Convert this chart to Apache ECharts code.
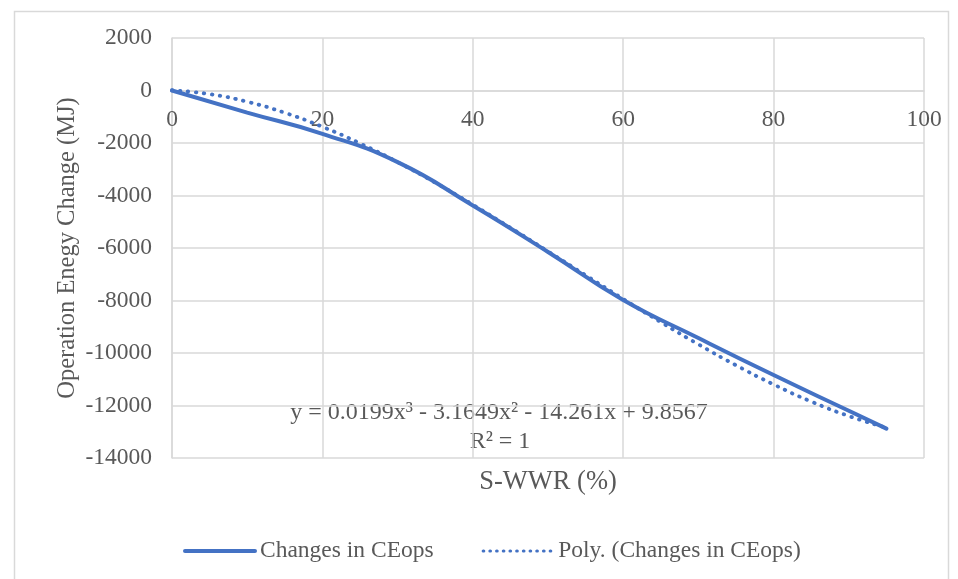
<!DOCTYPE html>
<html>
<head>
<meta charset="utf-8">
<script src="https://cdn.jsdelivr.net/npm/echarts@6/dist/echarts.min.js"></script>
<style>
html,body{margin:0;padding:0;background:#fff;}
#chart{width:958px;height:579px;}
</style>
</head>
<body>
<div id="chart"></div>
<script>
// Data
const xTicks = [0, 20, 40, 60, 80, 100];
const yTicks = [2000, 0, -2000, -4000, -6000, -8000, -10000, -12000, -14000];
const seriesNames = ['Changes in CEops', 'Poly. (Changes in CEops)'];
// Actual series: S-WWR (%) vs operation energy change (MJ)
const actualX = [0, 10, 20, 30, 40, 50, 60, 70, 80, 90, 95];
const actualY = [0, -840, -1650, -2730, -4380, -6150, -7980, -9430, -10840, -12200, -12880];
// Polynomial trend line (values as seen in picture)
const trendX = [0, 5, 10, 15, 20, 25, 30, 35, 40, 45, 50, 55, 60, 65, 70, 75, 80, 85, 90, 95];
const trendY = [10, -138, -429, -849, -1382, -2014, -2729, -3513, -4351, -5227, -6128, -7037, -7941, -8824, -9671, -10467, -11198, -11848, -12402, -12846];
const equationText = 'y = 0.0199x³ - 3.1649x² - 14.261x + 9.8567';
const r2Text = 'R² = 1';
const xTitle = 'S-WWR (%)';
const yTitle = 'Operation Enegy Change (MJ)';

const FONT = '"Liberation Serif","Times New Roman",serif';
const TXT = '#595959';
const GRID = '#D9D9D9';
const BLUE = '#4472C4';

const GRID_TOP = 38, GRID_H = 420;
const yMin = yTicks[yTicks.length - 1], yMax = yTicks[0];
// shift the x axis (line + labels) up to the y = 0 line
const zeroOffset = -GRID_H * (0 - yMin) / (yMax - yMin);

const chart = echarts.init(document.getElementById('chart'), null, {renderer: 'canvas'});
chart.setOption({
  backgroundColor: '#ffffff',
  animation: false,
  grid: {left: 172, top: GRID_TOP, width: 752, height: GRID_H, containLabel: false},
  xAxis: {
    type: 'value',
    position: 'bottom',
    offset: zeroOffset,
    min: xTicks[0], max: xTicks[xTicks.length - 1], interval: 20,
    axisLine: {show: true, onZero: false, lineStyle: {color: GRID, width: 1.5}},
    axisTick: {show: false},
    axisLabel: {color: TXT, fontFamily: FONT, fontSize: 23.5, margin: 17},
    splitLine: {show: true, lineStyle: {color: GRID, width: 1.5}}
  },
  yAxis: {
    type: 'value',
    min: yMin, max: yMax, interval: 2000,
    name: yTitle,
    nameLocation: 'middle',
    nameRotate: 90,
    nameGap: 92,
    nameMoveOverlap: false,
    nameTextStyle: {color: TXT, fontFamily: FONT, fontSize: 24.5},
    axisLine: {show: true, lineStyle: {color: GRID, width: 1.5}},
    axisTick: {show: false},
    axisLabel: {color: TXT, fontFamily: FONT, fontSize: 23.5, margin: 20,
                formatter: v => String(v)},
    splitLine: {show: true, lineStyle: {color: GRID, width: 1.5}}
  },
  legend: {
    left: 178, top: 534,
    itemWidth: 70, itemHeight: 14, itemGap: 48,
    textStyle: {color: TXT, fontFamily: FONT, fontSize: 23.5},
    itemStyle: {opacity: 0},
    data: [
      {name: seriesNames[0], itemStyle: {opacity: 0},
       lineStyle: {color: BLUE, width: 4, type: 'solid'}},
      {name: seriesNames[1], itemStyle: {opacity: 0},
       lineStyle: {color: BLUE, width: 3.2, type: [0.5, 6.2], cap: 'round'}}
    ]
  },
  series: [
    {
      name: seriesNames[0],
      type: 'line',
      smooth: true,
      showSymbol: false,
      symbol: 'none',
      lineStyle: {color: BLUE, width: 4, cap: 'round'},
      itemStyle: {color: BLUE},
      data: actualX.map((x, i) => [x, actualY[i]]),
      z: 3
    },
    {
      name: seriesNames[1],
      type: 'line',
      smooth: true,
      showSymbol: false,
      symbol: 'none',
      lineStyle: {color: BLUE, width: 3.8, type: [0.5, 7.5], cap: 'round'},
      itemStyle: {color: BLUE},
      data: trendX.map((x, i) => [x, trendY[i]]),
      z: 4
    }
  ],
  graphic: [
    {type: 'rect', left: 12, top: 9, shape: {width: 934, height: 600},
     style: {fill: 'none', stroke: GRID, lineWidth: 1.5}, silent: true, z: -10},
    {type: 'text', x: 499, y: 413,
     style: {text: equationText, fill: TXT, font: '24px ' + FONT, textAlign: 'center', textVerticalAlign: 'middle'}},
    {type: 'text', x: 500, y: 442,
     style: {text: r2Text, fill: TXT, font: '24px ' + FONT, textAlign: 'center', textVerticalAlign: 'middle'}},
    {type: 'text', x: 548, y: 482,
     style: {text: xTitle, fill: TXT, font: '26.5px ' + FONT, textAlign: 'center', textVerticalAlign: 'middle'}}
  ]
});
</script>
</body>
</html>
